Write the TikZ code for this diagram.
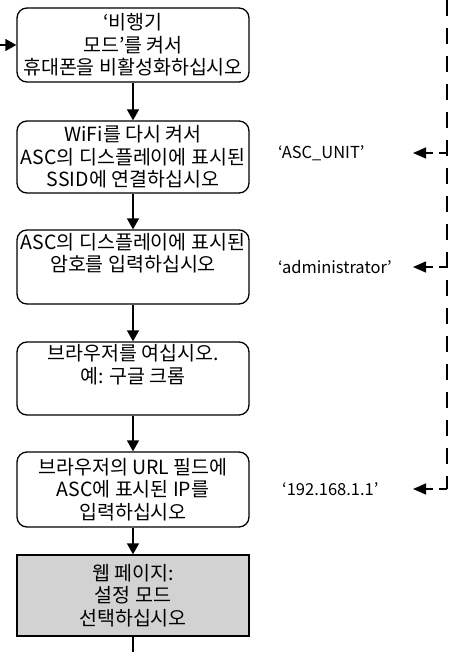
\documentclass[tikz,border=0pt]{standalone}
\usepackage{fontspec}
\setmainfont{Noto Sans CJK KR}
\usetikzlibrary{arrows.meta}
\definecolor{boxgray}{RGB}{210,210,210}
\tikzset{
  stepbox/.style={draw, line width=1.3pt, rounded corners=10pt, minimum width=232pt, align=center, inner sep=1pt, font=\fontsize{19.5}{22.5}\selectfont},
  flow/.style={line width=1.3pt, -{Triangle[width=12pt,length=11pt]}},
  dashline/.style={line width=1.3pt, dash pattern=on 16pt off 12pt},
  dasharrow/.style={line width=1.3pt, dash pattern=on 8pt off 6pt, -{Triangle[width=11pt,length=13pt]}},
  lab/.style={anchor=west, inner sep=0pt, font=\fontsize{16.5}{20}\selectfont}
}
\begin{document}
\begin{tikzpicture}[x=1pt,y=-1pt]
\useasboundingbox (0,0) rectangle (454,652);
\node[stepbox, minimum height=74pt] (b1) at (133,45) {‘비행기\\모드’를 켜서\\휴대폰을 비활성화하십시오};
\node[stepbox, minimum height=72pt] (b2) at (133,157) {WiFi를 다시 켜서\\ASC의 디스플레이에 표시된\\SSID에 연결하십시오};
\node[stepbox, minimum height=74pt] (b3) at (133,267) {ASC의 디스플레이에 표시된\\암호를 입력하십시오\\\strut};
\node[stepbox, minimum height=73pt] (b4) at (133,378.5) {브라우저를 여십시오.\\예: 구글 크롬\\\strut};
\node[stepbox, minimum height=75pt] (b5) at (133,489.5) {브라우저의 URL 필드에\\ASC에 표시된 IP를\\입력하십시오};
\node[stepbox, rounded corners=0pt, fill=boxgray, minimum height=81pt] (b6) at (133,595.5) {웹 페이지:\\설정 모드\\선택하십시오};
\coordinate (in) at (0,45);
\coordinate (out) at (133,653);
\draw[flow] (in) -- (b1);
\draw[flow] (b1) -- (b2);
\draw[flow] (b2) -- (b3);
\draw[flow] (b3) -- (b4);
\draw[flow] (b4) -- (b5);
\draw[flow] (b5) -- (b6);
\draw[line width=1.3pt] (b6) -- (out);
% dashed feed
\coordinate (dtop) at (447,0);
\coordinate (d1) at (447,153);
\coordinate (d2) at (447,267);
\coordinate (d3) at (447,489);
\coordinate (a1) at (413,153);
\coordinate (a2) at (413,267);
\coordinate (a3) at (413,489);
\node[lab] (l1) at (278,153) {‘ASC\_UNIT’};
\node[lab] (l2) at (278,267) {‘administrator’};
\node[lab] (l3) at (282,489) {‘192.168.1.1’};
\draw[dashline] (dtop) -- (d3);
\draw[dasharrow] (d1) -- (a1);
\draw[dasharrow] (d2) -- (a2);
\draw[dasharrow] (d3) -- (a3);
\end{tikzpicture}
\end{document}
